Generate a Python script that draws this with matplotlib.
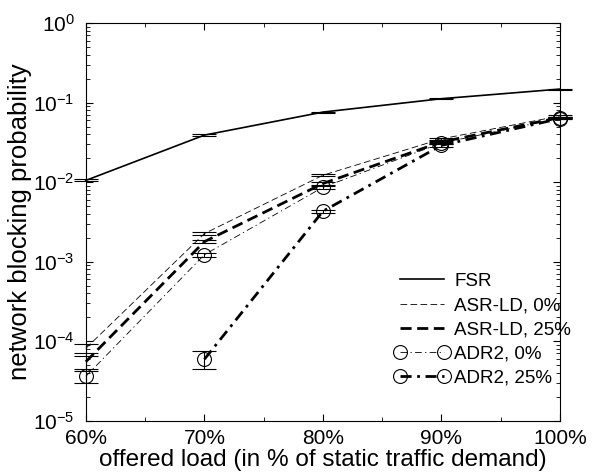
import matplotlib
matplotlib.use("Agg")
import matplotlib.pyplot as plt
from matplotlib.lines import Line2D
from matplotlib.ticker import FixedLocator, LogLocator, NullFormatter

plt.rcParams["font.family"] = ["Liberation Sans", "DejaVu Sans"]
plt.rcParams["mathtext.fontset"] = "custom"
plt.rcParams["mathtext.rm"] = "Liberation Sans"
plt.rcParams["mathtext.it"] = "Liberation Sans:italic"

# offered load (% of static traffic demand)
load = [60, 70, 80, 90, 100]
load_adr25 = [70, 80, 90, 100]

# network blocking probability per scheme, with half-width of error bars
fsr = [0.0105, 0.039, 0.076, 0.112, 0.148]
fsr_err = [0.0003, 0.0008, 0.0012, 0.0015, 0.002]
asr_0 = [8.1e-5, 0.00225, 0.0122, 0.035, 0.068]
asr_0_err = [1.0e-5, 0.0001, 0.0004, 0.0012, 0.0015]
asr_25 = [5.5e-5, 0.00178, 0.0096, 0.032, 0.065]
asr_25_err = [1.0e-5, 0.00009, 0.0004, 0.0012, 0.0015]
adr_0 = [3.6e-5, 0.00122, 0.0086, 0.031, 0.064]
adr_0_err = [0.65e-5, 0.00008, 0.0003, 0.0012, 0.0015]
adr_25 = [5.9e-5, 0.0043, 0.029, 0.063]
adr_25_err = [1.5e-5, 0.0002, 0.0012, 0.0015]

fig = plt.figure(figsize=(5.92, 4.72), dpi=100)
ax = fig.add_axes([0.145, 0.109, 0.801, 0.842])

circle = dict(marker="o", ms=10, mfc="none", mec="k", mew=0.8)
series = [
    (load, fsr, fsr_err, "FSR", dict(ls="-", lw=1.2)),
    (load, asr_0, asr_0_err, "ASR-LD, 0%", dict(ls=(0, (8, 4)), lw=0.6)),
    (load, asr_25, asr_25_err, "ASR-LD, 25%", dict(ls=(0, (4, 2)), lw=2.0)),
    (load, adr_0, adr_0_err, "ADR2, 0%", dict(ls=(0, (8, 4, 1.5, 4)), lw=0.6, **circle)),
    (load_adr25, adr_25, adr_25_err, "ADR2, 25%", dict(ls=(0, (4, 2, 1, 2)), lw=2.0, **circle)),
]

handles = []
for x, y, e, lab, style in series:
    ax.errorbar(x, y, yerr=e, color="k", ecolor="k", elinewidth=0.8, capsize=8.5,
                capthick=0.8, clip_on=False, **style)
    handles.append(Line2D([], [], color="k", label=lab, **style))

ax.set_yscale("log")
ax.set_ylim(1e-5, 1)
ax.set_xlim(60, 100)
ax.yaxis.set_major_locator(LogLocator(base=10, numticks=10))
ax.yaxis.set_minor_locator(LogLocator(base=10, subs=range(2, 10), numticks=10))
ax.yaxis.set_minor_formatter(NullFormatter())
ax.xaxis.set_major_locator(FixedLocator(load))
ax.xaxis.set_minor_locator(FixedLocator([65, 75, 85, 95]))
ax.set_xticklabels([f"{v}%" for v in load])

ax.tick_params(which="both", direction="in", top=True, right=True, labelsize=15)
ax.tick_params(axis="x", pad=6)
ax.tick_params(axis="y", pad=8)
ax.tick_params(which="major", length=5, width=0.8)
ax.tick_params(which="minor", length=3, width=0.6)
for sp in ax.spines.values():
    sp.set_linewidth(0.8)

ax.set_xlabel("offered load (in % of static traffic demand)", fontsize=17.5, labelpad=1)
ax.set_ylabel("network blocking probability", fontsize=18.5, labelpad=1)

fig.legend(handles=handles, loc="upper left", bbox_to_anchor=(0.667, 0.422), frameon=False,
           fontsize=13.5, numpoints=2, handlelength=2.9, handletextpad=0.27,
           labelspacing=0.38, borderpad=0, borderaxespad=0)

fig.savefig("out.png", dpi=100)
